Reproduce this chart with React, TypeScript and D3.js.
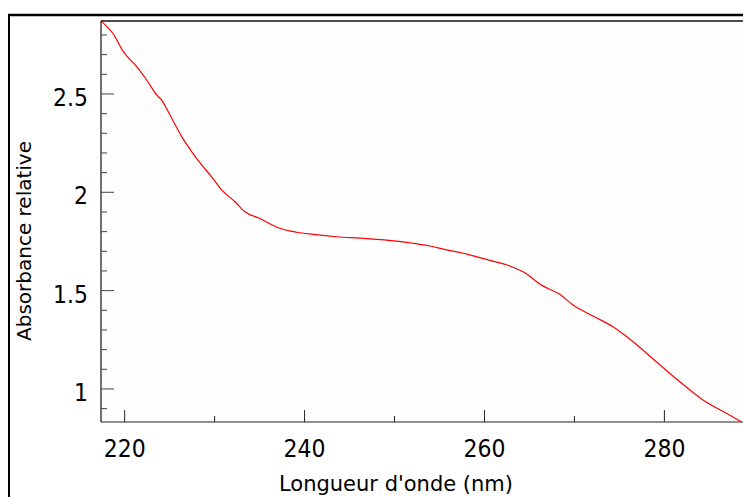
import React from "react";
import * as d3 from "d3";

const wavelengths = [217.45, 218.74, 219.85, 221.34, 222.45, 223.56, 224.11, 225.04, 226.34, 227.45, 228.56, 229.67, 230.78, 232.26, 233.37, 234.96, 237.26, 239.11, 240.96, 243.56, 246.51, 250.23, 252.07, 253.93, 255.78, 257.63, 260.4, 262.81, 264.48, 266.34, 268.37, 269.85, 272.07, 274.29, 276.52, 279.11, 281.71, 284.29, 286.89, 288.56];
const absorbance = [2.868, 2.805, 2.715, 2.639, 2.571, 2.495, 2.469, 2.393, 2.283, 2.207, 2.139, 2.079, 2.012, 1.952, 1.901, 1.868, 1.817, 1.797, 1.786, 1.774, 1.766, 1.752, 1.741, 1.727, 1.707, 1.69, 1.656, 1.625, 1.591, 1.528, 1.481, 1.427, 1.371, 1.316, 1.24, 1.138, 1.037, 0.944, 0.876, 0.833];

const xMajorTicks = [220, 240, 260, 280];
const xMinorTicks = [230, 250, 270];
const yMajorTicks = [1, 1.5, 2, 2.5];
const yTickLabels = ["1", "1.5", "2", "2.5"];
const yMinorTicks = [0.9, 1.1, 1.2, 1.3, 1.4, 1.6, 1.7, 1.8, 1.9, 2.1, 2.2, 2.3, 2.4, 2.6, 2.7, 2.8];

const xTitle = "Longueur d'onde (nm)";
const yTitle = "Absorbance relative";

export default function App() {
  const W = 743, H = 497;
  const left = 101, right = 743, top = 21, bottom = 422;
  const x = d3.scaleLinear().domain([217.37, 288.74]).range([left, right]);
  const y = d3.scaleLinear().domain([0.832, 2.871]).range([bottom, top]);
  const pts = wavelengths.map((w, i) => [w, absorbance[i]] as [number, number]);
  const line = d3.line<[number, number]>().x(d => x(d[0])).y(d => y(d[1])).curve(d3.curveMonotoneX);
  const font = "'DejaVu Sans', sans-serif";
  return (
    <svg width={W} height={H} style={{ position: "absolute", left: 0, top: 0, background: "#fff" }}>
      <rect x={left} y={top} width={right - left} height={bottom - top} fill="#fefefe" />
      {/* outer frame */}
      <line x1={8} x2={W} y1={15} y2={15} stroke="#000" strokeWidth={2.5} />
      <line x1={9} x2={9} y1={14} y2={H} stroke="#000" strokeWidth={2} />
      {/* plot frame */}
      <line x1={left} x2={right} y1={top} y2={top} stroke="#111" strokeWidth={1.5} />
      <line x1={left} x2={left} y1={top} y2={bottom} stroke="#111" strokeWidth={1.2} />
      <line x1={left} x2={right} y1={bottom} y2={bottom} stroke="#222" strokeWidth={1.2} />
      {/* y ticks */}
      {yMajorTicks.map(t => (
        <line key={"ym" + t} x1={left} x2={left + 13} y1={y(t)} y2={y(t)} stroke="#444" strokeWidth={1} />
      ))}
      {yMinorTicks.map(t => (
        <line key={"yn" + t} x1={left} x2={left + 6} y1={y(t)} y2={y(t)} stroke="#444" strokeWidth={1} />
      ))}
      {yMajorTicks.map((t, i) => (
        <text key={"yl" + t} transform={`translate(88,${y(t) + 12}) scale(1,1.12)`} textAnchor="end" fontFamily={font} fontSize={22} fill="#000">{yTickLabels[i]}</text>
      ))}
      {/* x ticks */}
      {xMajorTicks.map(t => (
        <line key={"xm" + t} x1={x(t)} x2={x(t)} y1={bottom} y2={bottom - 12} stroke="#222" strokeWidth={1} />
      ))}
      {xMinorTicks.map(t => (
        <line key={"xn" + t} x1={x(t)} x2={x(t)} y1={bottom} y2={bottom - 6} stroke="#222" strokeWidth={1} />
      ))}
      {xMajorTicks.map(t => (
        <text key={"xl" + t} transform={`translate(${x(t)},457) scale(1,1.1)`} textAnchor="middle" fontFamily={font} fontSize={22} fill="#000">{t}</text>
      ))}
      {/* curve */}
      <path d={line(pts) || ""} fill="none" stroke="#ff0000" strokeWidth={1.2} />
      {/* titles */}
      <text x={396} y={491} textAnchor="middle" fontFamily={font} fontSize={21} fill="#000">{xTitle}</text>
      <text transform={`translate(31,241) rotate(-90)`} textAnchor="middle" fontFamily={font} fontSize={20} fill="#000">{yTitle}</text>
    </svg>
  );
}
